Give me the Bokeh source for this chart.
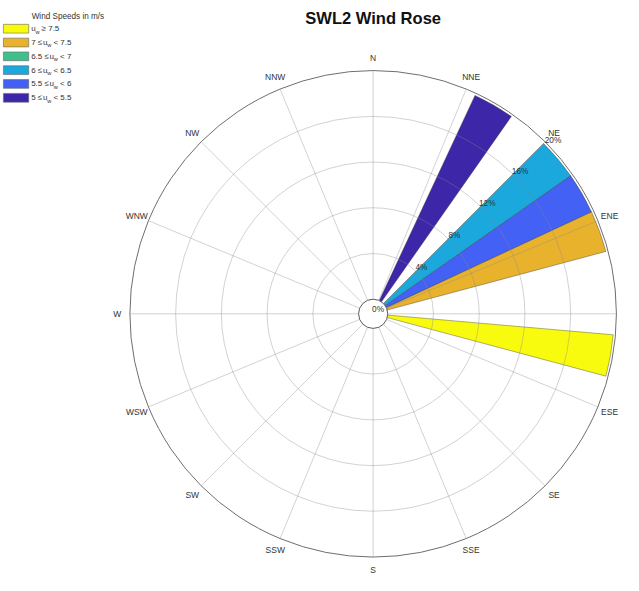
import math
from bokeh.plotting import figure
from bokeh.models import Range1d
from bokeh.core.properties import value
from bokeh.embed import file_html
from bokeh.resources import INLINE

# ---------------- data ----------------
title_text = "SWL2 Wind Rose"
legend_title = "Wind Speeds in m/s"
compass_labels = ["N", "NNE", "NE", "ENE", "E", "ESE", "SE", "SSE",
                  "S", "SSW", "SW", "WSW", "W", "WNW", "NW", "NNW"]
compass_deg = [0, 22.5, 45, 67.5, 90, 112.5, 135, 157.5,
               180, 202.5, 225, 247.5, 270, 292.5, 315, 337.5]
ring_pct = [4, 8, 12, 16, 20]
ring_labels = ["4%", "8%", "12%", "16%", "20%"]

# direction bins (centre, degrees clockwise from N), bin width 10 deg
bin_dirs = [30, 50, 60, 70, 100]
bin_width = 10
# frequency (%) in each bin for each speed class (low -> high speed)
class_lo = [5, 5.5, 6, 6.5, 7, 7.5]
class_hi = [5.5, 6, 6.5, 7, 7.5, None]
class_colors = ["#3e26a8", "#4361f5", "#1ba8dc", "#3fbf8a", "#e8b22d", "#f9fb0e"]
freq_5_55   = [19.8, 0.0, 0.0, 0.0, 0.0]
freq_55_6   = [0.0, 0.0, 19.8, 0.0, 0.0]
freq_6_65   = [0.0, 19.8, 0.0, 0.0, 0.0]
freq_65_7   = [0.0, 0.0, 0.0, 0.0, 0.0]
freq_7_75   = [0.0, 0.0, 0.0, 19.8, 0.0]
freq_75_up  = [0.0, 0.0, 0.0, 0.0, 19.8]
class_freqs = [freq_5_55, freq_55_6, freq_6_65, freq_65_7, freq_7_75, freq_75_up]

# ---------------- geometry ----------------
W, H = 623, 575
K = 0.973            # overall scale so the full drawing fits
DX = 6               # left shift (reference pixels)
S = 11.75            # reference pixels per percent
CX, CY = 389, 322    # centre in reference pixels
HOLE = 15 / S        # inner hole radius (data units)
X_RIGHT = DX + W / K  # right edge of the view, reference pixels


def pxd(xp, yp):
    return ((xp - CX) / S, (CY - yp) / S)


def polar(r, d):
    a = math.radians(d)
    return r * math.sin(a), r * math.cos(a)


def fs(size):
    return "%.2fpx" % (size * K)


p = figure(width=W, height=H, output_backend="svg", toolbar_location=None,
           x_range=Range1d((DX - CX) / S, (X_RIGHT - CX) / S),
           y_range=Range1d((CY - H / K) / S, CY / S),
           x_axis_location=None, y_axis_location=None, min_border=0)
p.grid.visible = False
p.outline_line_color = None
p.background_fill_color = "white"
p.border_fill_color = "white"

FONT = value("Liberation Sans")

# ---------------- wedges ----------------
cum = [0.0] * len(bin_dirs)
for ci, freqs in enumerate(class_freqs):
    xs, ys, inner, outer, sa, ea = [], [], [], [], [], []
    for bi, d in enumerate(bin_dirs):
        f = freqs[bi]
        if f <= 0:
            continue
        xs.append(0); ys.append(0)
        inner.append(HOLE + cum[bi])
        outer.append(HOLE + cum[bi] + f)
        sa.append(math.radians(90 - (d + bin_width / 2)))
        ea.append(math.radians(90 - (d - bin_width / 2)))
        cum[bi] += f
    if xs:
        p.annular_wedge(x=xs, y=ys, inner_radius=inner, outer_radius=outer,
                        start_angle=sa, end_angle=ea,
                        fill_color=class_colors[ci], fill_alpha=1.0,
                        line_color="#404040", line_width=0.6, line_alpha=0.7)

# ---------------- grid ----------------
gx0, gy0, gx1, gy1 = [], [], [], []
for d in compass_deg:
    x0, y0 = polar(HOLE, d)
    x1, y1 = polar(HOLE + 20, d)
    gx0.append(x0); gy0.append(y0); gx1.append(x1); gy1.append(y1)
p.segment(x0=gx0, y0=gy0, x1=gx1, y1=gy1, line_color="#8a8a8a",
          line_alpha=0.38, line_width=1)
p.circle(x=[0] * 4, y=[0] * 4, radius=[HOLE + r for r in ring_pct[:-1]],
         fill_color=None, line_color="#8a8a8a", line_alpha=0.38, line_width=1)
p.circle(x=[0], y=[0], radius=[HOLE + 20], fill_color=None,
         line_color="#6e6e6e", line_width=1)
p.circle(x=[0], y=[0], radius=[HOLE], fill_color="white",
         line_color="#5a5a5a", line_width=1)

# ---------------- labels ----------------
lab_r = 263 / S
lx, ly, lt = [], [], []
for t, d in zip(compass_labels, compass_deg):
    x, y = polar(lab_r, d)
    right_px = CX + x * S + len(t) * 3.2
    if right_px > X_RIGHT - 1:     # lies beyond the picture, as in the reference
        continue
    lx.append(x); ly.append(y); lt.append(t)
p.text(x=lx, y=ly, text=lt, text_font=FONT,
       text_font_size=fs(8.7), text_color="#333333",
       text_align="center", text_baseline="middle")

rx, ry = [], []
for r in ring_pct:
    x, y = polar(HOLE + r + 7 / S, 46)
    rx.append(x); ry.append(y)
p.text(x=rx, y=ry, text=ring_labels, text_font=FONT,
       text_font_size=fs(8.5), text_color="#333333",
       text_align="center", text_baseline="middle")
zx, zy = pxd(394, 318)
p.text(x=[zx], y=[zy], text=["0%"], text_font=FONT,
       text_font_size=fs(8.5), text_color="#333333",
       text_align="center", text_baseline="middle")

tx, ty = pxd(389, 19)
p.text(x=[tx], y=[ty], text=[title_text], text_font=FONT,
       text_font_size=fs(17), text_font_style="bold", text_color="#111111",
       text_align="center", text_baseline="middle")

# ---------------- legend (manual, for subscripts) ----------------
lgx, lgy = pxd(38, 16)
p.text(x=[lgx], y=[lgy], text=[legend_title], text_font=FONT,
       text_font_size=fs(8.4), text_color="#333333",
       text_align="left", text_baseline="middle")

CW = {".": 2.28, " ": 2.28, "≤": 4.5, "≥": 4.5, "<": 4.79, "u": 4.56}


def tw(s):
    return sum(CW.get(c, 4.56) for c in s)


def fmt(v):
    return "%g" % v


row_y0 = 29
row_dy = 14.2
order = list(range(len(class_lo)))[::-1]   # highest speed first
qx0, qx1, qy0, qy1, qc = [], [], [], [], []
main_x, main_y, main_t = [], [], []
sub_x, sub_y = [], []


def put(x, y, t):
    a, b = pxd(x, y)
    main_x.append(a); main_y.append(b); main_t.append(t)


for k, ci in enumerate(order):
    yc = row_y0 + k * row_dy
    a0, b0 = pxd(9, yc - 4.5)
    a1, b1 = pxd(35, yc + 4.5)
    qx0.append(a0); qx1.append(a1); qy0.append(b1); qy1.append(b0)
    qc.append(class_colors[ci])
    x = 37.5
    if class_hi[ci] is None:
        suffix = "≥ " + fmt(class_lo[ci])
    else:
        prefix = fmt(class_lo[ci]) + " ≤"
        put(x, yc, prefix)
        x += tw(prefix) + 0.8
        suffix = "< " + fmt(class_hi[ci])
    put(x, yc, "u")
    x += tw("u") - 0.2
    a, b = pxd(x, yc + 3)
    sub_x.append(a); sub_y.append(b)
    x += 4.2 + 2.2
    put(x, yc, suffix)

p.quad(left=qx0, right=qx1, bottom=qy0, top=qy1, fill_color=qc,
       line_color="#666666", line_width=0.6)
p.text(x=main_x, y=main_y, text=main_t, text_font=FONT,
       text_font_size=fs(8.2), text_color="#333333",
       text_align="left", text_baseline="middle")
p.text(x=sub_x, y=sub_y, text=["w"] * len(sub_x), text_font=FONT,
       text_font_size=fs(5.8), text_color="#333333",
       text_align="left", text_baseline="middle")

open("out.html", "w").write(file_html(p, INLINE))
